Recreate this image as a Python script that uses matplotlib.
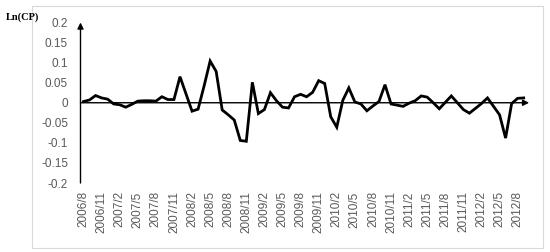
import matplotlib
matplotlib.use("Agg")
import matplotlib.pyplot as plt
from matplotlib.patches import Rectangle

# monthly Ln(CP), 2006/8 .. 2012/9
months = []
for y in range(2006, 2013):
    for m in range(1, 13):
        if (y == 2006 and m < 8) or (y == 2012 and m > 9):
            continue
        months.append(f"{y}/{m}")

values = [0.003, 0.007, 0.018, 0.012, 0.009, -0.003, -0.005, -0.011, -0.004, 0.004,
          0.005, 0.005, 0.004, 0.015, 0.008, 0.008, 0.065, 0.022, -0.021, -0.016,
          0.042, 0.104, 0.078, -0.018, -0.030, -0.043, -0.094, -0.096, 0.051, -0.027,
          -0.017, 0.025, 0.005, -0.011, -0.013, 0.015, 0.021, 0.015, 0.026, 0.055,
          0.048, -0.035, -0.061, 0.006, 0.037, 0.002, -0.003, -0.020, -0.008, 0.003,
          0.045, -0.003, -0.006, -0.009, -0.001, 0.005, 0.017, 0.014, 0.000, -0.015,
          0.001, 0.017, 0.000, -0.017, -0.026, -0.014, -0.002, 0.012, -0.009, -0.030,
          -0.088, -0.002, 0.011, 0.012]

yticks = [0.2, 0.15, 0.1, 0.05, 0, -0.05, -0.1, -0.15, -0.2]
ytick_labels = ["0.2", "0.15", "0.1", "0.05", "0", "-0.05", "-0.1", "-0.15", "-0.2"]

W, H = 550, 252
fig = plt.figure(figsize=(W / 100, H / 100), dpi=100)
plt.rcParams['font.family'] = ['Liberation Sans', 'DejaVu Sans']

# light chart-area border
fig.patches.append(Rectangle((32 / W, 1 - 248 / H), (543 - 32) / W, (248 - 6) / H,
                             transform=fig.transFigure, fill=False,
                             edgecolor='#d9d9d9', lw=0.8))

ax = fig.add_axes([80.5 / W, 1 - 183 / H, 446.2 / W, 160.5 / H])
x = list(range(len(values)))
ax.plot(x, values, color='black', lw=2, solid_joinstyle='miter', zorder=3)

ax.set_xlim(-0.5, len(values) - 0.5)
ax.set_ylim(-0.2, 0.2)
for s in ax.spines.values():
    s.set_visible(False)

ax.set_yticks(yticks)
ax.set_yticklabels(ytick_labels)
ax.set_xticks(x[::3])
ax.set_xticklabels(months[::3], rotation=90)
ax.tick_params(axis='y', length=0, pad=9, labelsize=8.5, labelcolor='#595959')
ax.tick_params(axis='x', length=0, pad=6, labelsize=8.5, labelcolor='#595959')

# axes with arrow heads
ax.annotate('', xy=(0, 1), xytext=(0, 0), xycoords='axes fraction',
            annotation_clip=False,
            arrowprops=dict(arrowstyle='-|>', color='black', lw=1,
                            mutation_scale=9, shrinkA=0, shrinkB=0))
ax.annotate('', xy=(len(values) - 0.1, 0), xytext=(-0.5, 0),
            annotation_clip=False,
            arrowprops=dict(arrowstyle='-|>', color='black', lw=1,
                            mutation_scale=9, shrinkA=0, shrinkB=0))

fig.text(6 / W, 1 - 17.5 / H, 'Ln(CP)', family='Liberation Serif',
         fontweight='bold', fontsize=7.5, va='center', ha='left')

fig.savefig('out.png', dpi=100)
